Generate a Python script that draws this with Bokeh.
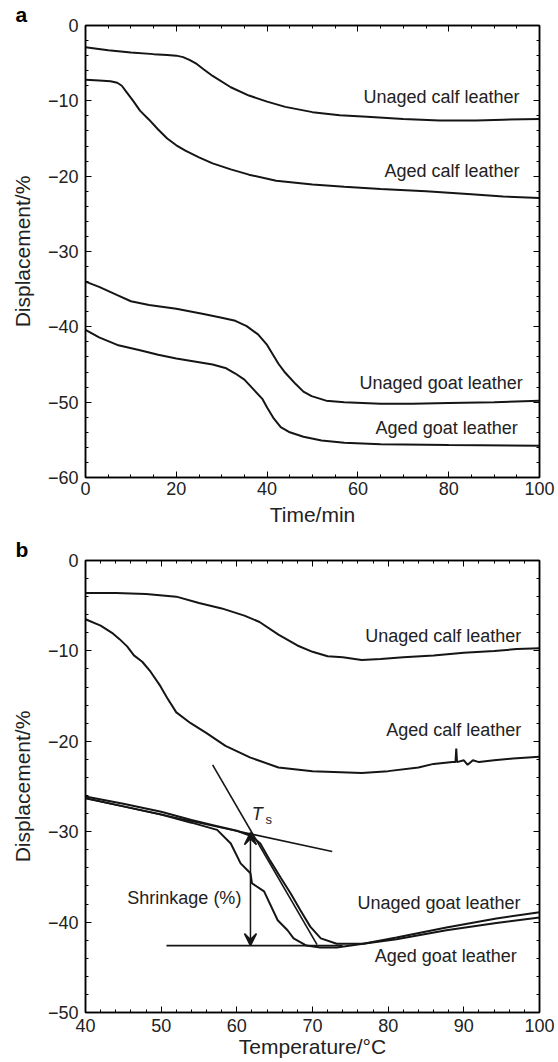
from bokeh.plotting import figure
from bokeh.models import FixedTicker, LinearAxis, Label, Arrow, VeeHead, Range1d, Title
from bokeh.layouts import column
from bokeh.embed import file_html
from bokeh.resources import INLINE

FONT = "Liberation Sans"

# ---------------- Panel a data (time / min, displacement / %) ----------------
a_unaged_calf_t = [0, 5, 10, 15, 18, 20, 21.5, 23, 24.5, 26, 28, 32, 36, 40, 44, 50, 56, 62, 70, 78, 86, 92, 100]
a_unaged_calf_d = [-2.9, -3.3, -3.6, -3.8, -3.9, -4.0, -4.2, -4.6, -5.1, -5.8, -6.7, -8.2, -9.3, -10.1, -10.8, -11.5, -11.9, -12.1, -12.4, -12.6, -12.6, -12.5, -12.4]

a_aged_calf_t = [0, 3, 5.5, 7, 8, 9, 10.5, 12, 14, 16, 18, 20, 22, 25, 28, 32, 36, 42, 50, 57, 65, 75, 85, 92, 100]
a_aged_calf_d = [-7.2, -7.3, -7.4, -7.6, -8.0, -8.8, -10.0, -11.3, -12.5, -13.8, -15.0, -15.9, -16.6, -17.5, -18.3, -19.1, -19.8, -20.6, -21.1, -21.4, -21.7, -22.0, -22.4, -22.7, -22.9]

a_unaged_goat_t = [0, 3, 7, 10, 14, 20, 26, 30, 33, 35.5, 38, 40, 42.5, 44, 46.3, 48, 49.8, 53, 57, 65, 72, 80, 90, 100]
a_unaged_goat_d = [-34.0, -34.7, -35.8, -36.6, -37.1, -37.6, -38.3, -38.8, -39.2, -39.9, -41.0, -42.4, -44.9, -46.1, -47.6, -48.6, -49.2, -49.8, -50.0, -50.2, -50.2, -50.1, -50.0, -49.8]

a_aged_goat_t = [0, 3, 7, 12, 16, 20, 25, 28, 31, 33, 35, 37, 39, 40, 41.5, 43, 45, 48, 52, 57, 65, 80, 100]
a_aged_goat_d = [-40.4, -41.4, -42.4, -43.1, -43.7, -44.2, -44.7, -45.0, -45.5, -46.2, -47.0, -48.3, -49.6, -50.7, -52.2, -53.3, -54.0, -54.6, -55.1, -55.4, -55.6, -55.7, -55.8]

a_labels = ["Unaged calf leather", "Aged calf leather", "Unaged goat leather", "Aged goat leather"]
a_label_x = [95.6, 95.6, 96.3, 95.2]
a_label_y = [-9.5, -19.3, -47.4, -53.4]

a_xticks = [0, 20, 40, 60, 80, 100]
a_xminor = list(range(0, 101, 5))
a_yticks = [0, -10, -20, -30, -40, -50, -60]
a_yminor = list(range(-60, 1, 2))

# ---------------- Panel b data (temperature / °C, displacement / %) ----------------
b_unaged_calf_T = [40, 44, 48, 52, 55, 58, 61, 63, 65.5, 68, 70, 72, 74, 76.5, 79, 82, 86, 90, 94, 97, 100]
b_unaged_calf_d = [-3.6, -3.6, -3.7, -4.0, -4.7, -5.3, -6.1, -6.8, -8.2, -9.4, -10.1, -10.6, -10.7, -11.0, -10.9, -10.7, -10.5, -10.2, -10.0, -9.8, -9.7]

b_aged_calf_T = [40, 42, 43.5, 44.5, 45.5, 46.4, 47.5, 48.6, 49.9, 50.8, 52, 53.9, 56, 58.5, 61.8, 65.5, 70, 76.5, 80, 84, 86, 88.5, 88.9, 89.0, 89.1, 90, 90.5, 91.2, 92, 94, 96.5, 100]
b_aged_calf_d = [-6.5, -7.2, -8.0, -8.7, -9.5, -10.5, -11.2, -12.3, -13.9, -15.2, -16.8, -18.0, -19.1, -20.5, -21.8, -22.9, -23.3, -23.5, -23.3, -22.9, -22.5, -22.3, -22.3, -20.8, -22.3, -22.1, -22.6, -22.1, -22.3, -22.1, -21.9, -21.7]

b_unaged_goat_T = [40, 45, 50, 54, 57, 60, 62, 63.1, 64.4, 65.8, 67.1, 68.4, 69.7, 71.1, 73.2, 76.7, 81.1, 87.7, 94.3, 100]
b_unaged_goat_d = [-26.1, -26.9, -27.8, -28.7, -29.3, -29.9, -30.5, -31.3, -33.2, -35.1, -36.8, -38.7, -40.5, -41.8, -42.4, -42.4, -41.7, -40.6, -39.6, -38.9]

b_aged_goat_T = [40, 45, 50, 54, 57.4, 59.2, 60.5, 61.8, 62.0, 63.6, 65.4, 66.7, 67.5, 69.2, 71, 73.2, 76.7, 81.1, 87.7, 94.3, 100]
b_aged_goat_d = [-26.3, -27.2, -28.1, -29.0, -29.8, -31.3, -33.5, -34.6, -35.7, -36.6, -39.8, -40.9, -41.8, -42.6, -42.8, -42.8, -42.4, -41.9, -40.9, -40.1, -39.5]

b_labels = ["Unaged calf leather", "Aged calf leather", "Unaged goat leather", "Aged goat leather"]
b_label_x = [97.6, 97.6, 97.5, 97.0]
b_label_y = [-8.3, -18.7, -37.9, -43.7]

# construction lines for the shrinkage temperature
tan1_T = [40, 72.6]
tan1_d = [-26.3, -32.2]
tan2_T = [56.8, 70.6]
tan2_d = [-22.6, -42.5]
base_T = [50.7, 74.0]
base_d = [-42.6, -42.6]
ts_T = 61.8
ts_top = -30.1
ts_bottom = -42.6

b_xticks = [40, 50, 60, 70, 80, 90, 100]
b_xminor = list(range(40, 101, 2))
b_yticks = [0, -10, -20, -30, -40, -50]
b_yminor = list(range(-50, 1, 2))


def minus(v):
    return str(v).replace("-", "\u2212")


def style_axes(p, xticks, xminor, yticks, yminor, xlabel, ylabel, xl_std, xlab_std):
    p.xaxis.visible = False
    p.yaxis.visible = False
    xt = FixedTicker(ticks=xticks, minor_ticks=xminor)
    yt = FixedTicker(ticks=yticks, minor_ticks=yminor)
    bottom = LinearAxis(ticker=xt, axis_label=xlabel)
    left = LinearAxis(ticker=yt, axis_label=ylabel)
    top = LinearAxis(ticker=xt)
    right = LinearAxis(ticker=yt)
    for ax in (bottom, left, top, right):
        ax.major_tick_in = 6
        ax.major_tick_out = 0
        ax.minor_tick_in = 3
        ax.minor_tick_out = 0
        ax.axis_line_color = "black"
        ax.axis_line_width = 1.5
        ax.major_tick_line_color = "black"
        ax.minor_tick_line_color = "black"
        ax.major_tick_line_width = 1
        ax.minor_tick_line_width = 1
        ax.major_label_text_font = FONT
        ax.major_label_text_font_size = "18px"
        ax.major_label_text_color = "#222222"
        ax.axis_label_text_font = FONT
        ax.axis_label_text_font_size = "21px"
        ax.axis_label_text_font_style = "normal"
        ax.axis_label_text_color = "#222222"
    top.major_label_overrides = {v: "" for v in xticks}
    right.major_label_overrides = {v: "" for v in yticks}
    top.major_label_standoff = 0
    right.major_label_standoff = 0
    bottom.major_label_overrides = {v: minus(v) for v in xticks}
    left.major_label_overrides = {v: minus(v) for v in yticks}
    bottom.major_label_standoff = xl_std
    bottom.axis_label_standoff = xlab_std
    left.major_label_standoff = 7
    left.axis_label_standoff = 11
    p.add_layout(bottom, "below")
    p.add_layout(left, "left")
    p.add_layout(top, "above")
    p.add_layout(right, "right")
    p.xgrid.visible = False
    p.ygrid.visible = False
    p.outline_line_color = "black"
    p.outline_line_width = 1.5


def letter_title(txt):
    return Title(text=txt, align="left", offset=-70, standoff=0, vertical_align="bottom",
                 text_font=FONT, text_font_size="21px", text_font_style="bold",
                 text_color="black")


LINE = "#151515"

# ---------------- Panel a ----------------
pa = figure(width=558, height=531, output_backend="svg", toolbar_location=None,
            x_range=Range1d(0, 100), y_range=Range1d(-60, 0),
            min_border_left=85, min_border_right=17, min_border_top=21, min_border_bottom=54)
pa.title = letter_title("a")
style_axes(pa, a_xticks, a_xminor, a_yticks, a_yminor, "Time/min", "Displacement/%", 4, 5)
for xs, ys in ((a_unaged_calf_t, a_unaged_calf_d), (a_aged_calf_t, a_aged_calf_d),
               (a_unaged_goat_t, a_unaged_goat_d), (a_aged_goat_t, a_aged_goat_d)):
    pa.line(xs, ys, line_color=LINE, line_width=2)
for txt, x, y in zip(a_labels, a_label_x, a_label_y):
    pa.add_layout(Label(x=x, y=y, text=txt, text_align="right", text_baseline="middle",
                        text_font=FONT, text_font_size="18px", text_color="#222222"))

# ---------------- Panel b ----------------
pb = figure(width=558, height=531, output_backend="svg", toolbar_location=None,
            x_range=Range1d(40, 100), y_range=Range1d(-50, 0),
            min_border_left=85, min_border_right=19, min_border_top=29, min_border_bottom=50)
pb.title = letter_title("b")
style_axes(pb, b_xticks, b_xminor, b_yticks, b_yminor, "Temperature/\u00b0C", "Displacement/%", 6, 0)
for xs, ys in ((b_unaged_calf_T, b_unaged_calf_d), (b_aged_calf_T, b_aged_calf_d),
               (b_unaged_goat_T, b_unaged_goat_d), (b_aged_goat_T, b_aged_goat_d)):
    pb.line(xs, ys, line_color=LINE, line_width=2)
pb.line(tan1_T, tan1_d, line_color=LINE, line_width=1.6)
pb.line(tan2_T, tan2_d, line_color=LINE, line_width=1.6)
pb.line(base_T, base_d, line_color=LINE, line_width=1.8)
pb.add_layout(Arrow(x_start=ts_T, y_start=(ts_top + ts_bottom) / 2, x_end=ts_T, y_end=ts_top,
                    line_color=LINE, line_width=1.5,
                    end=VeeHead(size=12, line_color=LINE, fill_color=LINE, line_width=1.5)))
pb.add_layout(Arrow(x_start=ts_T, y_start=(ts_top + ts_bottom) / 2, x_end=ts_T, y_end=ts_bottom,
                    line_color=LINE, line_width=1.5,
                    end=VeeHead(size=12, line_color=LINE, fill_color=LINE, line_width=1.5)))
for txt, x, y in zip(b_labels, b_label_x, b_label_y):
    pb.add_layout(Label(x=x, y=y, text=txt, text_align="right", text_baseline="middle",
                        text_font=FONT, text_font_size="18px", text_color="#222222"))
pb.add_layout(Label(x=60.6, y=-37.3, text="Shrinkage (%)", text_align="right", text_baseline="middle",
                    text_font=FONT, text_font_size="18px", text_color="#222222"))
pb.add_layout(Label(x=62.7, y=-28.0, text="T", text_align="center", text_baseline="middle",
                    text_font=FONT, text_font_size="18px", text_font_style="italic", text_color="#222222"))
pb.add_layout(Label(x=63.8, y=-28.6, text="s", text_align="left", text_baseline="middle",
                    text_font=FONT, text_font_size="13px", text_color="#222222"))

layout = column(pa, pb, spacing=0)
open("out.html", "w").write(file_html(layout, INLINE))
